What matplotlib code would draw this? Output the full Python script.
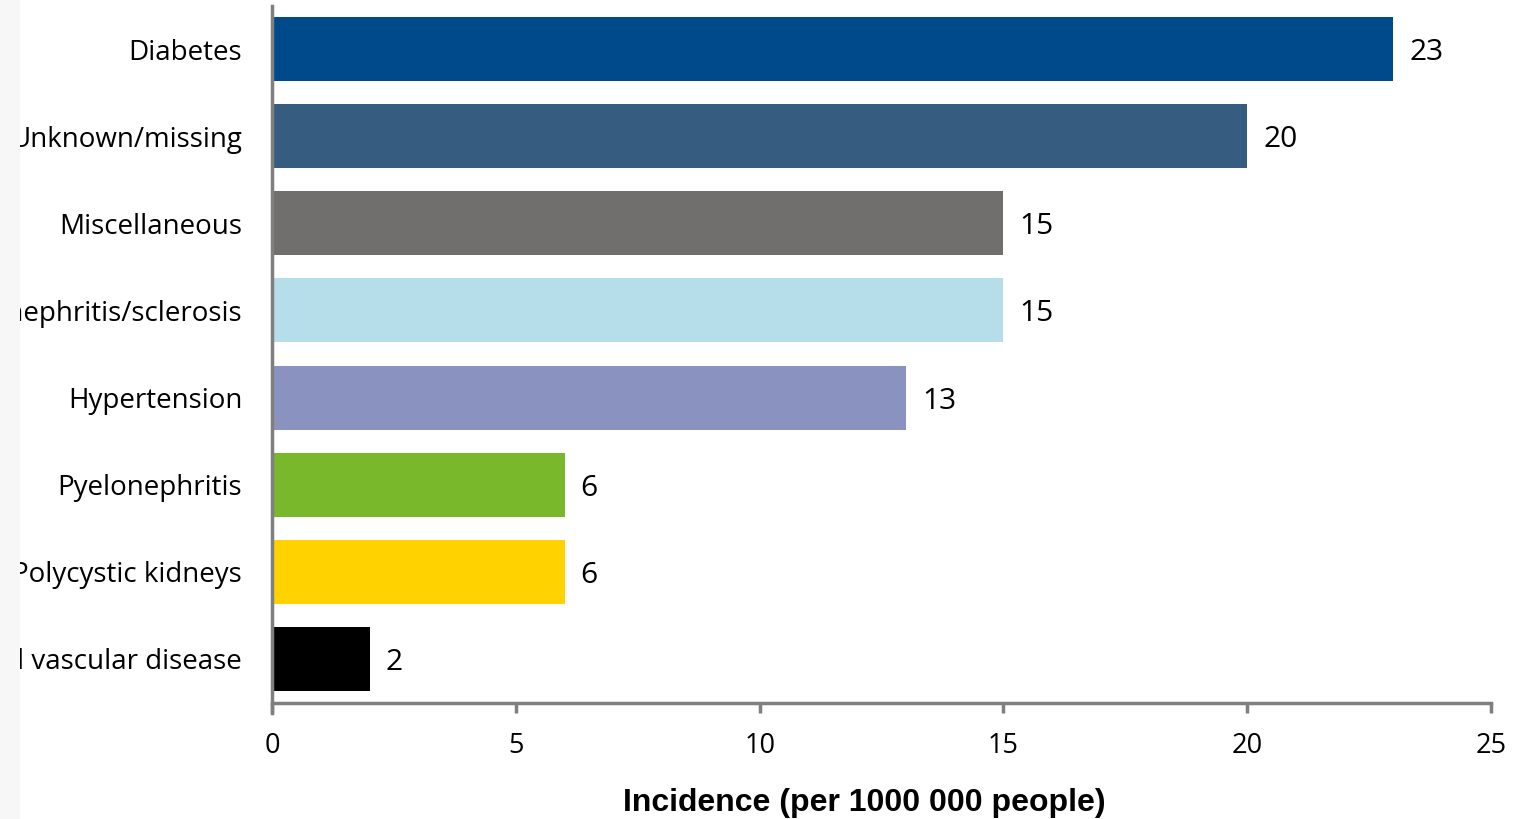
import matplotlib
matplotlib.use("Agg")
import matplotlib.pyplot as plt
from matplotlib.patches import Rectangle

categories = ["Diabetes", "Unknown/missing", "Miscellaneous", "Glomerulonephritis/sclerosis",
              "Hypertension", "Pyelonephritis", "Polycystic kidneys", "Renal vascular disease"]
values = [23, 20, 15, 15, 13, 6, 6, 2]
colors = ["#004A8C", "#365C80", "#706F6D", "#B5DDEA", "#8A93BF", "#78B82A", "#FFD200", "#000000"]
xticks = [0, 5, 10, 15, 20, 25]
xlabel = "Incidence (per 1000 000 people)"

W, H = 1527, 819
fig = plt.figure(figsize=(W/100, H/100), dpi=100)
ax = fig.add_axes([272/W, 1-702.5/H, (1491-272)/W, (702.5-5.5)/H])

ypos = list(range(len(categories)))
ax.barh(ypos, values, height=0.735, color=colors, zorder=2)
ax.set_ylim(len(categories)-0.5, -0.5)
ax.set_xlim(0, 25)
ax.set_yticks(ypos)
ax.set_yticklabels(categories, fontsize=20, family="Open Sans")
ax.tick_params(axis="y", length=0, pad=21.5)
ax.set_xticks(xticks)
ax.set_xticklabels([str(t) for t in xticks], fontsize=19.5, family="Open Sans")
ax.tick_params(axis="x", length=7, width=2.5, color="#7f7f7f", pad=14)

for s in ["top", "right"]:
    ax.spines[s].set_visible(False)
for s in ["left", "bottom"]:
    ax.spines[s].set_color("#7f7f7f")
    ax.spines[s].set_linewidth(2.5)
ax.spines["left"].set_bounds(len(categories)-0.5 + 0.12, -0.5)

for y, v in zip(ypos, values):
    ax.text(v + 0.33, y, str(v), va="center_baseline", ha="left", fontsize=21.5, family="Open Sans")

ax.set_xlabel(xlabel, fontsize=23, fontweight="bold", family="Liberation Sans")
ax.xaxis.set_label_coords(0.486, -0.122)

fig.patches.append(Rectangle((0, 0), 20/W, 1, transform=fig.transFigure,
                             facecolor="#f7f7f7", edgecolor="none", zorder=10))
fig.savefig("out.png", dpi=100)
